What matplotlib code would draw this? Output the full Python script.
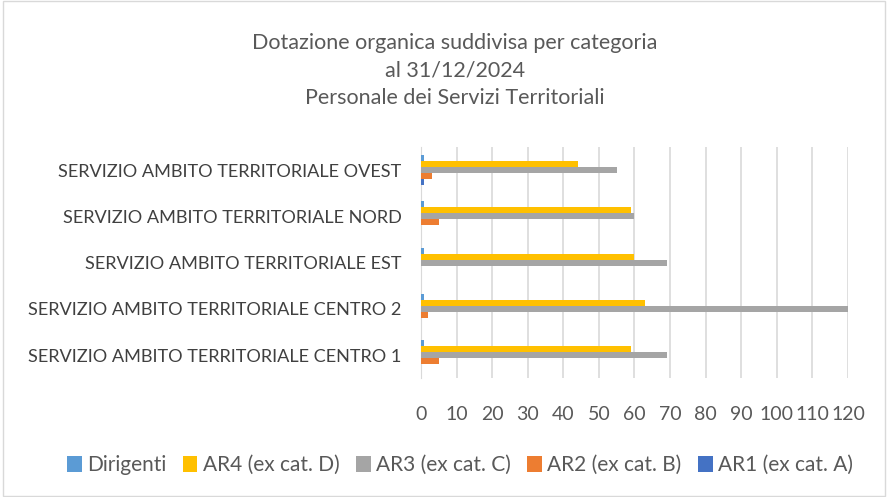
import numpy as np
import matplotlib.pyplot as plt
from matplotlib.patches import Rectangle

# categories from bottom to top
categories = [
    "SERVIZIO AMBITO TERRITORIALE CENTRO 1",
    "SERVIZIO AMBITO TERRITORIALE CENTRO 2",
    "SERVIZIO AMBITO TERRITORIALE EST",
    "SERVIZIO AMBITO TERRITORIALE NORD",
    "SERVIZIO AMBITO TERRITORIALE OVEST",
]
series_names = ["Dirigenti", "AR4 (ex cat. D)", "AR3 (ex cat. C)", "AR2 (ex cat. B)", "AR1 (ex cat. A)"]
dirigenti = [1, 1, 1, 1, 1]
ar4 = [59, 63, 60, 59, 44]
ar3 = [69, 120, 69, 60, 55]
ar2 = [5, 2, 0, 5, 3]
ar1 = [0, 0, 0, 0, 1]
colors = ["#5B9BD5", "#FFC000", "#A5A5A5", "#ED7D31", "#4472C4"]
xticks = list(range(0, 121, 10))

plt.rcParams['font.family'] = ['Lato', 'DejaVu Sans']

fig = plt.figure(figsize=(8.88, 4.97), dpi=100)
fig.patches.append(Rectangle((0.003, 0.003), 0.994, 0.994, transform=fig.transFigure,
                             fill=False, edgecolor="#D9D9D9", linewidth=1))
ax = fig.add_axes([0.474, 0.239, 0.481, 0.465])

y = np.arange(len(categories))
h = 0.13
values = [dirigenti, ar4, ar3, ar2, ar1]
for i, (name, vals, c) in enumerate(zip(series_names, values, colors)):
    offset = (2 - i) * h
    ax.barh(y + offset, vals, height=h, color=c, label=name, zorder=3)

ax.set_xlim(0, 120)
ax.set_ylim(-0.5, 4.5)
ax.set_yticks(y)
ax.set_yticklabels(categories, fontsize=13.1, color="#404040")
ax.set_xticks(xticks)
ax.set_xticklabels([str(t) for t in xticks], fontsize=14, color="#595959")
ax.tick_params(axis='both', length=0)
ax.tick_params(axis='y', pad=14)
ax.tick_params(axis='x', pad=20)
ax.xaxis.grid(True, color="#D9D9D9", linewidth=1.2, zorder=0)
for s in ["top", "right", "bottom"]:
    ax.spines[s].set_visible(False)
ax.spines["left"].set_color("#D9D9D9")

fig.text(0.512, 0.858, "Dotazione organica suddivisa per categoria\nal 31/12/2024\nPersonale dei Servizi Territoriali",
         ha="center", va="center", fontsize=15.5, color="#595959", linespacing=1.45)

handles, labels = ax.get_legend_handles_labels()
fig.legend(handles, labels, loc="center", bbox_to_anchor=(0.518, 0.064), ncol=5, frameon=False,
           fontsize=15, labelcolor="#595959", handlelength=0.7, handleheight=0.85,
           handletextpad=0.25, columnspacing=0.8)

fig.savefig("out.png", dpi=100)
